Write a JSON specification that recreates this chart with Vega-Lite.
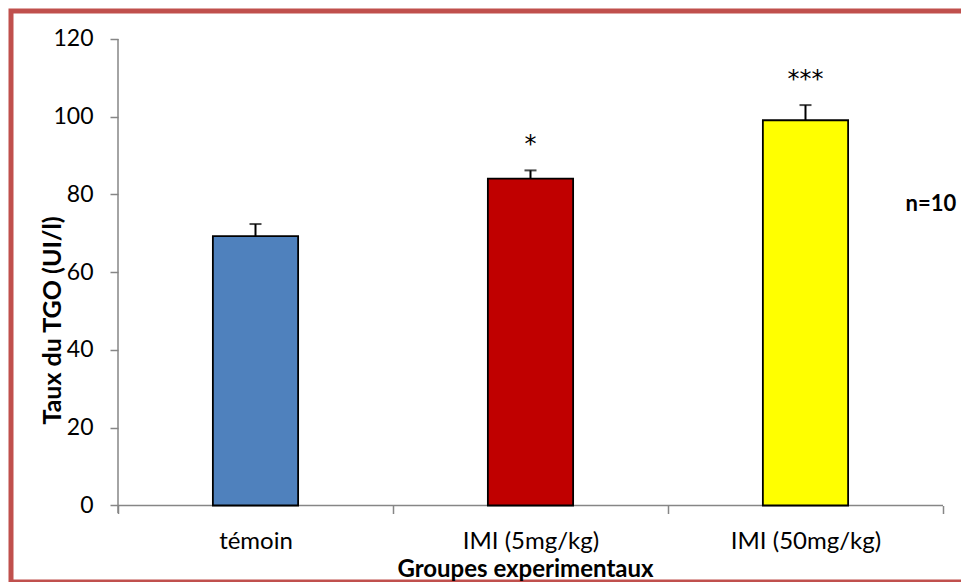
{
  "$schema": "https://vega.github.io/schema/vega-lite/v6.json",
  "autosize": "none",
  "padding": {"left": 11, "top": 11, "right": 0, "bottom": 0},
  "width": 1000,
  "height": 571,
  "background": "white",
  "config": {
    "view": {"stroke": "#C0504D", "strokeWidth": 5},
    "font": "Lato"
  },
  "data": {
    "values": [
      {"group": "témoin", "mean": 69.3, "err": 72.4, "sig": ""},
      {"group": "IMI (5mg/kg)", "mean": 84.1, "err": 86.2, "sig": "*"},
      {"group": "IMI (50mg/kg)", "mean": 99.1, "err": 103.0, "sig": "***"}
    ]
  },
  "encoding": {
    "x": {
      "field": "group",
      "type": "nominal",
      "sort": ["témoin", "IMI (5mg/kg)", "IMI (50mg/kg)"],
      "scale": {"domain": ["témoin", "IMI (5mg/kg)", "IMI (50mg/kg)"], "paddingInner": 0, "paddingOuter": 0.3182, "align": 0.6114},
      "axis": {
        "orient": "bottom",
        "offset": -76.5,
        "domain": false,
        "grid": false,
        "labelAngle": 0,
        "tickBand": "extent",
        "tickSize": 8,
        "tickWidth": 1.5,
        "tickColor": "#868686",
        "labelFont": "Lato",
        "labelFontSize": 24,
        "labelColor": "#000000",
        "labelPadding": 16,
        "title": "Groupes experimentaux",
        "titleFont": "Lato",
        "titleFontSize": 24,
        "titleFontWeight": "bold",
        "titleColor": "#000000",
        "titleX": 514,
        "titleY": 71,
        "titleBaseline": "alphabetic",
        "titleAlign": "center",
        "titleAnchor": null
      }
    },
    "y": {
      "type": "quantitative",
      "scale": {"domain": [-19.68, 127.2], "nice": false, "zero": false},
      "axis": {
        "orient": "left",
        "offset": -107,
        "domain": false,
        "grid": false,
        "values": [0, 20, 40, 60, 80, 100, 120],
        "tickSize": 8,
        "tickWidth": 1.5,
        "tickColor": "#868686",
        "labelFont": "Lato",
        "labelFontSize": 23,
        "labelColor": "#000000",
        "labelPadding": 17,
        "title": "Taux du TGO (UI/l)",
        "titleFont": "Lato",
        "titleFontSize": 25,
        "titleFontWeight": "bold",
        "titleColor": "#000000",
        "titleAngle": -90,
        "titleX": -58,
        "titleY": 309,
        "titleBaseline": "alphabetic",
        "titleAlign": "center",
        "titleAnchor": null
      }
    }
  },
  "layer": [
    {
      "data": {"values": [{}]},
      "mark": {"type": "rule", "color": "#868686", "strokeWidth": 1.5},
      "encoding": {
        "x": {"datum": "témoin", "type": "nominal", "bandPosition": 0},
        "y": {"datum": 120, "type": "quantitative"},
        "y2": {"datum": -1.9}
      }
    },
    {
      "data": {"values": [{}]},
      "mark": {"type": "rule", "color": "#868686", "strokeWidth": 1.5},
      "encoding": {
        "x": {"datum": "témoin", "type": "nominal", "bandPosition": 0},
        "x2": {"datum": "IMI (50mg/kg)", "bandPosition": 1},
        "y": {"datum": 0, "type": "quantitative"}
      }
    },
    {
      "mark": {"type": "bar", "width": {"band": 0.31}, "stroke": "#000000", "strokeWidth": 1.8},
      "encoding": {
        "y": {"field": "mean", "type": "quantitative"},
        "color": {
          "field": "group",
          "type": "nominal",
          "scale": {"domain": ["témoin", "IMI (5mg/kg)", "IMI (50mg/kg)"], "range": ["#4F81BD", "#C00000", "#FFFF00"]},
          "legend": null
        }
      }
    },
    {
      "mark": {"type": "rule", "color": "#000000", "strokeWidth": 2},
      "encoding": {
        "y": {"field": "mean", "type": "quantitative"},
        "y2": {"field": "err"}
      }
    },
    {
      "mark": {"type": "tick", "color": "#000000", "size": 12, "thickness": 2},
      "encoding": {
        "y": {"field": "err", "type": "quantitative"}
      }
    },
    {
      "mark": {"type": "text", "font": "DejaVu Sans", "fontSize": 24, "color": "#000000", "baseline": "alphabetic", "dy": -18},
      "encoding": {
        "y": {"field": "err", "type": "quantitative"},
        "text": {"field": "sig"}
      }
    },
    {
      "data": {"values": [{"note": "n=10"}]},
      "mark": {"type": "text", "font": "Lato", "fontSize": 22, "fontWeight": "bold", "color": "#000000", "baseline": "middle", "align": "center"},
      "encoding": {
        "x": {"datum": "IMI (50mg/kg)", "type": "nominal", "bandPosition": 0.956},
        "y": {"datum": 77.5, "type": "quantitative"},
        "text": {"field": "note"}
      }
    }
  ]
}
